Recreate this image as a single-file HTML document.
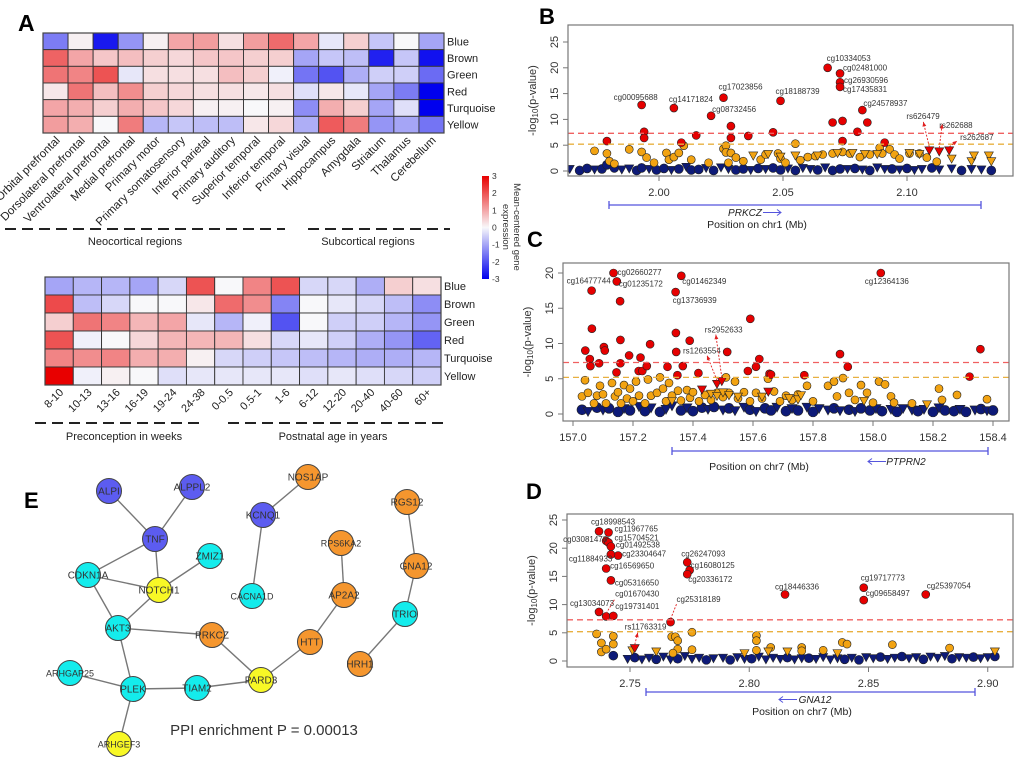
<!DOCTYPE html>
<html><head><meta charset="utf-8">
<style>
html,body{margin:0;padding:0;background:#fff;}
svg{display:block;font-family:"Liberation Sans",sans-serif;}
</style></head>
<body>
<svg id="fig" width="1020" height="766" viewBox="0 0 1020 766" xmlns="http://www.w3.org/2000/svg">
<rect x="0" y="0" width="1020" height="766" fill="#fff"/>
<text x="18" y="31" font-size="23" font-weight="bold">A</text>
<text x="539" y="24" font-size="22" font-weight="bold">B</text>
<text x="527" y="247" font-size="22" font-weight="bold">C</text>
<text x="526" y="499" font-size="22" font-weight="bold">D</text>
<text x="24" y="508" font-size="22" font-weight="bold">E</text>
<g id="gA"></g>
<g id="gE"></g>
<g id="gB"></g>
<g id="gC"></g>
<g id="gD"></g>
</svg>
<script>
const NS="http://www.w3.org/2000/svg";
function mk(tag,attrs,parent){const e=document.createElementNS(NS,tag);for(const k in attrs)e.setAttribute(k,attrs[k]);parent.appendChild(e);return e;}
function txt(s,attrs,parent){const e=mk('text',attrs,parent);e.textContent=s;return e;}

/* ---------- Heatmap data ---------- */
const modules=["Blue","Brown","Green","Red","Turquoise","Yellow"];
const regions=["Orbital prefrontal","Dorsolateral prefrontal","Ventrolateral prefrontal","Medial prefrontal","Primary motor","Primary somatosensory","Inferior parietal","Primary auditory","Superior temporal","Inferior temporal","Primary visual","Hippocampus","Amygdala","Striatum","Thalamus","Cerebellum"];
const regionBlue=[-1.5,0.1,-2.7,-1.2,0.1,1.0,1.1,0.3,1.1,1.7,1.0,-0.2,0.5,-0.6,0.0,-1.0];
const regionBrown=[1.8,1.0,0.6,0.7,0.5,0.4,0.6,0.6,0.5,0.5,-1.0,-0.6,-0.7,-2.6,-0.6,-2.8];
const regionGreen=[1.6,1.4,2.0,-0.2,0.3,0.3,0.3,0.7,0.5,-0.1,-1.6,-2.0,-0.9,-0.5,-0.5,-1.7];
const regionRed=[0.2,1.6,0.7,1.3,0.5,0.4,0.3,0.3,0.2,0.3,-0.3,0.2,-0.2,-1.0,-1.5,-3.0];
const regionTurq=[1.0,0.9,0.5,0.9,0.6,0.4,0.1,0.1,0.0,0.1,-1.3,0.9,0.5,-1.0,-0.3,-3.0];
const regionYellow=[1.1,0.9,0.0,1.5,-0.8,-0.6,-0.7,-0.7,0.2,0.4,-0.9,1.9,1.5,-1.2,-1.0,-1.6];
const ages=["8-10","10-13","13-16","16-19","19-24","24-38","0-0.5","0.5-1","1-6","6-12","12-20","20-40","40-60","60+"];
const ageBlue=[-1.0,-0.8,-0.8,-1.0,-0.4,2.0,0.0,1.4,2.0,-0.4,-0.4,-0.9,0.5,0.3];
const ageBrown=[2.1,-0.7,-0.4,0.0,0.0,0.2,1.7,1.3,-1.4,0.0,-0.2,-0.4,-0.7,-1.3];
const ageGreen=[0.5,1.6,1.4,0.8,1.0,-0.2,-0.8,-0.1,-2.0,0.0,-0.5,-0.5,-0.8,-1.2];
const ageRed=[2.0,-0.1,0.0,0.4,0.8,0.8,0.8,0.3,-0.4,-0.2,-0.5,-0.9,-1.2,-1.8];
const ageTurq=[1.4,1.3,1.4,0.9,0.9,0.1,-0.4,-0.5,-0.6,-0.7,-0.8,-0.9,-0.9,-0.8];
const ageYellow=[3.0,-0.1,0.1,0.0,-0.3,-0.2,-0.2,-0.2,-0.2,-0.3,-0.2,-0.3,-0.4,-0.5];
const colorbarTicks=[3,2,1,0,-1,-2,-3];

function heatColor(v){
  const t=Math.max(-1,Math.min(1,v/3));
  const w=[248,248,250];
  let c;
  if(t>=0)c=[w[0]+(232-w[0])*t,w[1]*(1-t),w[2]*(1-t)];
  else {const s=-t;c=[w[0]*(1-s),w[1]*(1-s),w[2]+(238-w[2])*s];}
  return "rgb("+c.map(Math.round).join(",")+")";
}
(function(){
  const g=document.getElementById('gA');
  function drawHeat(rows,cols,x0,y0,x1,y1,labelY,labelFont,rowLabelX,name){
    const cw=(x1-x0)/cols.length, rh=(y1-y0)/rows.length;
    rows.forEach((row,ri)=>{
      row.forEach((v,ci)=>{
        const r=mk('rect',{x:x0+ci*cw,y:y0+ri*rh,width:cw,height:rh,fill:heatColor(v),stroke:"#333","stroke-width":0.9},g);
        
        
      });
      const t=txt(modules[ri],{x:rowLabelX,y:y0+ri*rh+rh/2+4,"font-size":11,fill:"#222"},g);
      
      
    });
    const b=mk('rect',{x:x0,y:y0,width:x1-x0,height:y1-y0,fill:"none",stroke:"#444","stroke-width":1.2},g);
    
    
    cols.forEach((c,ci)=>{
      const cx=x0+ci*cw+cw/2+5;
      const t=txt(c,{x:cx,y:labelY,"font-size":labelFont,fill:"#222","text-anchor":"end",transform:"rotate(-45 "+cx+" "+labelY+")"},g);
      
      
    });
  }
  drawHeat([regionBlue,regionBrown,regionGreen,regionRed,regionTurq,regionYellow],regions,43,33,444,133,141,11.5,447,'region-heatmap');
  drawHeat([ageBlue,ageBrown,ageGreen,ageRed,ageTurq,ageYellow],ages,45,277,441,385,393,11,444,'age-heatmap');
  [[5,285,229],[308,450,229],[35,200,423],[228,447,423]].forEach(d=>{
    const l=mk('line',{x1:d[0],x2:d[1],y1:d[2],y2:d[2],stroke:"#222","stroke-width":2,"stroke-dasharray":"11 6"},g);
    
    
  });
  [["Neocortical regions",135,245],["Subcortical regions",368,245],["Preconception in weeks",124,440],["Postnatal age in years",333,440]].forEach(d=>{
    const t=txt(d[0],{x:d[1],y:d[2],"font-size":11,"text-anchor":"middle",fill:"#222"},g);
    
    
  });
  const defs=mk('defs',{},g);
  const lg=mk('linearGradient',{id:"cbg",x1:0,y1:0,x2:0,y2:1},defs);
  colorbarTicks.forEach((v,i)=>mk('stop',{offset:(i/(colorbarTicks.length-1)),"stop-color":heatColor(v)},lg));
  const cb=mk('rect',{x:482,y:176,width:7,height:103,fill:"url(#cbg)"},g);
  
  
  colorbarTicks.forEach((v,i)=>{
    const y=176+i*103/(colorbarTicks.length-1);
    const t=txt(String(v),{x:492,y:y+3,"font-size":8.5,fill:"#333"},g);
    
    
  });
  const t1=txt("Mean-centered gene",{x:514,y:227,"font-size":9.5,"text-anchor":"middle",fill:"#333",transform:"rotate(90 514 227)"},g);
  
  
  const t2=txt("expression",{x:503,y:227,"font-size":9.5,"text-anchor":"middle",fill:"#333",transform:"rotate(90 503 227)"},g);
  
  
})();

/* ---------- Network ---------- */
const nodeNames=["ALPI","ALPPL2","TNF","ZMIZ1","CDKN1A","NOTCH1","AKT3","PRKCZ","ARHGAP25","PLEK","TIAM2","PARD3","ARHGEF3","HTT","AP2A2","RPS6KA2","NOS1AP","KCNQ1","CACNA1D","RGS12","GNA12","TRIO","HRH1"];
const nodeGroup=["b","b","b","c","c","y","c","o","c","c","c","y","y","o","o","o","o","b","c","o","o","c","o"];
const nodeXY=[[109,491],[192,487],[155,539],[210,556],[88,575],[159,590],[118,628],[212,635],[70,673],[133,689],[197,688],[261,680],[119,744],[310,642],[344,595],[341,543],[308,477],[263,515],[252,596],[407,502],[416,566],[405,614],[360,664]];
const edges=[["ALPI","TNF"],["ALPPL2","TNF"],["TNF","CDKN1A"],["TNF","NOTCH1"],["ZMIZ1","NOTCH1"],["CDKN1A","NOTCH1"],["CDKN1A","AKT3"],["NOTCH1","AKT3"],["AKT3","PRKCZ"],["AKT3","PLEK"],["ARHGAP25","PLEK"],["PLEK","TIAM2"],["PLEK","ARHGEF3"],["TIAM2","PARD3"],["PRKCZ","PARD3"],["PARD3","HTT"],["HTT","AP2A2"],["AP2A2","RPS6KA2"],["NOS1AP","KCNQ1"],["KCNQ1","CACNA1D"],["RGS12","GNA12"],["GNA12","TRIO"],["TRIO","HRH1"]];
(function(){
  const g=document.getElementById('gE');
  const fills={b:"#5c5cf0",c:"#14ecec",y:"#f8f826",o:"#f5962e"};
  edges.forEach(e=>{
    const a=nodeXY[nodeNames.indexOf(e[0])],b=nodeXY[nodeNames.indexOf(e[1])];
    const l=mk('line',{x1:a[0],y1:a[1],x2:b[0],y2:b[1],stroke:"#777","stroke-width":1.4},g);
    
    
  });
  nodeNames.forEach((n,i)=>{
    const p=nodeXY[i];
    const c=mk('circle',{cx:p[0],cy:p[1],r:12.5,fill:fills[nodeGroup[i]],stroke:"#444","stroke-width":1},g);
    
    
    const t=txt(n,{x:p[0],y:p[1]+3.5,"font-size":n.length>6?9:10,"text-anchor":"middle",fill:"#333"},g);
    
    
  });
  const t=txt("PPI enrichment P = 0.00013",{x:264,y:735,"font-size":15,"text-anchor":"middle",fill:"#333"},g);
  
  
})();

/* ---------- Manhattan B data ---------- */
const bRedX=[1.993,2.006,2.021,2.026,2.049,2.068,2.073,2.073,2.073,2.082,1.979,1.994,1.994,2.009,2.015,2.029,2.029,2.036,2.046,2.070,2.074,2.074,2.080,2.084,2.091];
const bRedY=[12.8,12.2,10.7,14.2,13.6,20.0,18.9,17.2,16.3,11.8,5.8,7.6,6.4,5.5,6.9,8.7,6.4,6.8,7.5,9.4,9.7,5.8,7.6,9.4,5.5];
const bRedLabels=["cg00095688","cg14171824","cg08732456","cg17023856","cg18188739","cg10334053","cg02481000","cg26930596","cg17435831","cg24578937"];
const bLabelOff=[[-28,-5],[-5,-6],[1,-4],[-5,-8],[-5,-7],[-1,-7],[3,-3],[4,1],[3,5],[1,-4]];
const bTriX=[2.109,2.113,2.117];
const bTriY=[3.9,3.7,3.9];
const bTriLabels=["rs626479","rs262688","rs262687"];
const bTriOff=[[-23,-32],[0,-24],[11,-11]];
const bArrowOff=[[17,3],[3,-4],[-3,1]];
const bOrX=[1.974,1.979,1.980,1.982,1.988,1.993,1.995,1.998,2.003,2.004,2.006,2.008,2.010,2.013,2.020,2.026,2.027,2.027,2.029,2.031,2.028,2.034,2.041,2.043,2.048,2.049,2.051,2.055,2.057,2.060,2.063,2.066,2.070,2.074,2.077,2.081,2.085,2.089,2.090,2.093,2.095,2.097,2.101,2.105,2.108,2.112];
const bOrY=[3.9,3.4,1.9,1.4,4.2,3.7,2.6,1.6,3.5,2.2,2.7,3.5,4.9,2.2,1.6,4.3,4.9,3.6,3.5,2.6,1.6,1.9,2.2,3.2,3.4,2.4,1.6,5.3,2.1,2.7,2.9,3.2,3.4,3.7,3.4,2.7,3.2,4.5,3.4,4.2,3.2,2.4,3.4,3.4,2.6,1.8];
const bOrTriX=[2.038,2.044,2.049,2.055,2.064,2.072,2.078,2.083,2.088,2.101,2.105,2.118,2.126,2.127,2.133,2.134];
const bOrTriY=[2.9,3.2,2.7,2.9,2.9,3.4,3.4,3.2,3.2,3.4,3.2,2.3,1.8,2.9,2.9,1.8];
const bNavyX=[1.964,1.968,1.971,1.974,1.977,1.979,1.982,1.985,1.988,1.991,1.993,1.996,1.999,2.002,2.005,2.008,2.011,2.013,2.016,2.019,2.022,2.025,2.028,2.031,2.034,2.037,2.040,2.043,2.046,2.049,2.052,2.055,2.058,2.061,2.064,2.067,2.070,2.073,2.076,2.079,2.082,2.085,2.088,2.091,2.094,2.097,2.100,2.103,2.106,2.110,2.113,2.118,2.122,2.126,2.130,2.134];
const bNavyY=[0.3,0.1,0.5,0.2,0.4,1.2,0.6,0.2,0.4,0.1,0.6,0.3,0.2,0.5,0.1,0.4,0.7,0.2,0.3,0.5,0.1,0.6,0.3,0.2,0.4,0.1,0.5,0.3,0.6,0.2,0.4,0.1,0.5,0.3,0.2,0.6,0.1,0.4,0.3,0.5,0.2,0.1,0.6,0.3,0.4,0.2,0.5,0.1,0.3,0.6,0.2,0.4,0.1,0.3,0.2,0.1];
const bNavyShape="tcctcccttcctcctctcctcttcctctcctcttctcctctcttctcttcttctt";
const bXTicks=[2.00,2.05,2.10];
const bYTicks=[0,5,10,15,20,25];

/* ---------- Manhattan C data ---------- */
const cRedX=[157.135,157.062,157.146,157.361,157.342,158.026,157.041,157.063,157.056,157.058,157.087,157.103,157.106,157.157,157.158,157.158,157.145,157.187,157.219,157.225,157.231,157.246,157.257,157.315,157.343,157.344,157.348,157.366,157.389,157.418,157.514,157.583,157.591,157.610,157.621,157.655,157.660,157.771,157.890,157.916,158.322,158.358];
const cRedY=[20.0,17.5,18.8,19.6,17.3,20.0,9.0,12.1,7.8,6.8,7.2,9.5,9.0,16.0,10.5,7.2,5.9,8.3,6.1,8.0,6.1,6.8,9.9,6.7,11.5,8.8,5.5,6.8,10.4,5.8,8.8,6.1,13.5,6.7,7.8,5.7,5.6,5.5,8.5,6.7,5.3,9.2];
const cRedLabels=["cg02660277","cg16477744","cg01235172","cg01462349","cg13736939","cg12364136"];
const cLabelOff=[[4,2],[-25,-7],[2,5],[1,8],[-3,11],[-16,11]];
const cTriX=[157.480,157.496,157.430,157.651];
const cTriY=[4.2,4.6,3.4,3.1];
const cTriLabels=["rs1263554","rs2952633"];
const cTriOff=[[-34,-31],[-17,-49]];
const cArrowOff=[[24,2],[11,2]];
const cOrX=[157.03,157.04,157.05,157.07,157.08,157.09,157.10,157.11,157.13,157.14,157.15,157.16,157.17,157.18,157.19,157.20,157.21,157.22,157.24,157.25,157.26,157.28,157.29,157.30,157.31,157.32,157.33,157.35,157.36,157.38,157.39,157.40,157.42,157.44,157.46,157.48,157.50,157.51,157.52,157.54,157.55,157.57,157.59,157.61,157.63,157.65,157.67,157.69,157.71,157.73,157.75,157.78,157.80,157.85,157.87,157.88,157.90,157.92,157.94,157.96,157.98,158.00,158.02,158.04,158.06,158.07,158.13,158.22,158.23,158.28,158.38];
const cOrY=[2.5,4.8,3.0,1.5,2.6,4.0,2.8,1.5,4.4,2.5,3.1,1.5,4.1,2.2,3.6,1.8,4.6,2.6,1.5,4.9,2.6,3.0,5.2,3.6,1.8,4.4,2.6,3.3,1.9,3.4,2.3,3.1,1.8,2.7,2.0,3.0,2.4,5.2,3.0,4.6,2.2,3.1,1.8,3.0,2.2,5.0,3.2,1.8,2.6,2.0,2.8,4.0,1.8,4.0,4.6,2.5,5.1,3.0,2.0,4.1,3.0,1.6,4.6,4.2,2.5,1.6,1.5,3.6,2.0,2.7,2.1];
const cOrTriX=[157.33,157.46,157.48,157.50,157.52,157.55,157.63,157.72,157.75,157.76,157.97,158.18];
const cOrTriY=[1.8,2.8,2.5,3.0,2.6,2.4,2.4,2.2,2.0,2.6,1.8,1.3];
const cNavyX=[157.03,157.05,157.08,157.10,157.12,157.15,157.17,157.19,157.22,157.24,157.26,157.29,157.31,157.33,157.36,157.38,157.40,157.43,157.45,157.47,157.50,157.52,157.54,157.57,157.59,157.61,157.64,157.66,157.68,157.71,157.73,157.75,157.78,157.80,157.82,157.85,157.87,157.89,157.92,157.94,157.96,157.99,158.01,158.03,158.06,158.08,158.10,158.13,158.15,158.17,158.20,158.22,158.24,158.27,158.29,158.31,158.34,158.36,158.38,158.40];
const cNavyY=[0.6,0.3,0.9,0.5,0.8,0.3,0.7,0.5,1.0,0.4,0.8,0.3,0.6,1.1,0.5,0.8,0.4,0.9,0.6,1.0,0.5,0.8,0.4,0.9,0.6,0.3,0.8,0.5,0.9,0.4,0.7,0.5,0.9,0.3,0.7,0.5,0.8,0.4,0.6,0.3,0.8,0.5,0.7,0.4,0.6,0.3,0.7,0.5,0.4,0.6,0.3,0.8,0.5,0.4,0.6,0.3,0.5,0.7,0.4,0.5];
const cNavyShape="ctctcctctctcttctcctctcttctcctctctcttctctcctctcttctctcctctct";
const cXTicks=[157.0,157.2,157.4,157.6,157.8,158.0,158.2,158.4];
const cYTicks=[0,5,10,15,20];

/* ---------- Manhattan D data ---------- */
const dRedX=[2.737,2.741,2.740,2.741,2.742,2.745,2.742,2.740,2.742,2.737,2.740,2.743,2.774,2.775,2.774,2.767,2.815,2.848,2.848,2.874];
const dRedY=[23.0,22.8,21.3,21.0,20.3,18.7,18.9,16.4,14.3,8.7,7.9,8.0,17.5,16.1,15.4,6.9,11.8,13.0,10.8,11.8];
const dRedLabels=["cg18998543","cg11967765","cg03081478","cg15704521","cg01492538","cg23304647","cg11884933","cg16569650","cg05316650","cg13034073","cg01670430","cg19731401","cg26247093","cg16080125","cg20336172","cg25318189","cg18446336","cg19717773","cg09658497","cg25397054"];
const dLabelOff=[[-8,-7],[6,-1],[-43,1],[6,-2],[5,1],[4,1],[-42,7],[4,0],[4,5],[-29,-6],[9,-20],[2,-7],[-6,-6],[1,-2],[1,8],[6,-20],[-10,-5],[-3,-7],[2,-4],[1,-6]];
const dArrowIdx=[10,15];
const dTriX=[2.752];
const dTriY=[2.2];
const dTriLabels=["rs11763319"];
const dTriOff=[[-10,-19]];
const dArrowOff=[[13,3]];
const dOrX=[2.736,2.738,2.738,2.740,2.743,2.743,2.7675,2.769,2.770,2.770,2.768,2.776,2.776,2.803,2.803,2.803,2.809,2.822,2.822,2.831,2.839,2.841,2.860,2.884];
const dOrY=[4.8,3.2,1.6,2.1,3.0,4.4,4.3,4.3,3.6,2.1,1.4,5.1,2.0,4.5,3.6,1.9,2.4,2.4,1.8,1.9,3.3,3.0,2.9,2.3];
const dOrTriX=[2.751,2.761,2.798,2.808,2.816,2.837,2.903];
const dOrTriY=[1.8,1.6,1.3,1.6,1.6,1.3,1.6];
const dNavyX=[2.743,2.749,2.752,2.755,2.758,2.761,2.764,2.767,2.770,2.773,2.776,2.779,2.782,2.785,2.789,2.792,2.795,2.798,2.801,2.804,2.807,2.810,2.813,2.816,2.819,2.822,2.825,2.828,2.831,2.834,2.837,2.840,2.843,2.846,2.849,2.852,2.855,2.858,2.861,2.864,2.867,2.870,2.873,2.876,2.879,2.882,2.885,2.888,2.891,2.894,2.897,2.900,2.903];
const dNavyY=[0.95,0.3,0.6,0.2,0.5,0.3,0.7,0.2,0.4,0.8,0.3,0.5,0.2,0.4,0.5,0.2,0.6,0.3,0.4,0.7,0.2,0.5,0.3,0.6,0.2,0.4,0.5,0.3,0.6,0.2,0.4,0.3,0.5,0.2,0.6,0.4,0.7,0.3,0.5,0.8,0.4,0.6,0.3,0.7,0.5,0.8,0.4,0.6,0.5,0.7,0.4,0.6,0.8];
const dNavyShape="ctcttcttctttcttcttcttttcttcttttctcttcttcttctttcttcttct";
const dXTicks=[2.75,2.80,2.85,2.90];
const dYTicks=[0,5,10,15,20,25];

function manhattan(cfg){
  const g=document.getElementById(cfg.id);
  const xs=v=>cfg.px0+(v-cfg.v0)*cfg.ppx;
  const ys=v=>cfg.py0-v*cfg.ppy;
  const clip=mk('clipPath',{id:cfg.id+"clip"},mk('defs',{},g));
  mk('rect',{x:cfg.box[0],y:cfg.box[1],width:cfg.box[2]-cfg.box[0],height:cfg.box[3]-cfg.box[1]},clip);
  const pts=mk('g',{"clip-path":"url(#"+cfg.id+"clip)"},g);
  function circ(x,y,fill,r,name){
    const c=mk('circle',{cx:xs(x),cy:ys(y),r:r,fill:fill,stroke:"#222","stroke-width":0.6},pts);
    
    
  }
  function tri(x,y,fill,s,name){
    const X=xs(x),Y=ys(y);
    const p=mk('polygon',{points:(X-s)+","+(Y-s*0.9)+" "+(X+s)+","+(Y-s*0.9)+" "+X+","+(Y+s*0.9),fill:fill,stroke:"#222","stroke-width":0.6},pts);
    
    
  }
  [[7.3,"#f06060"],[5.2,"#e8b040"]].forEach(t=>{
    const l=mk('line',{x1:cfg.box[0],x2:cfg.box[2],y1:ys(t[0]),y2:ys(t[0]),stroke:t[1],"stroke-width":1.3,"stroke-dasharray":"6 4"},g);
    
    
  });
  cfg.navyX.forEach((x,i)=>{ if(i>=cfg.navyY.length)return;
    if(cfg.navyShape[i]==='t')tri(x,cfg.navyY[i],"#0d1a78",cfg.nr,'navy-triangle'); else circ(x,cfg.navyY[i],"#0d1a78",cfg.nr,'navy-point'); });
  cfg.orX.forEach((x,i)=>circ(x,cfg.orY[i],"#f2a312",4,'orange-point'));
  cfg.orTriX.forEach((x,i)=>tri(x,cfg.orTriY[i],"#f2a312",4.5,'orange-triangle'));
  cfg.redX.forEach((x,i)=>circ(x,cfg.redY[i],"#e60000",4,'red-point'));
  cfg.triX.forEach((x,i)=>tri(x,cfg.triY[i],"#e60000",4.5,'red-triangle'));
  cfg.redLabels.forEach((s,i)=>{
    const X=xs(cfg.redX[i])+cfg.labelOff[i][0],Y=ys(cfg.redY[i])+cfg.labelOff[i][1];
    const t=txt(s,{x:X,y:Y,"font-size":8,fill:"#333"},g);
    
    
    if(cfg.arrowIdx&&cfg.arrowIdx.indexOf(i)>=0){
      const l=mk('line',{x1:xs(cfg.redX[i]),y1:ys(cfg.redY[i])-3,x2:X,y2:Y+2,stroke:"#e02020","stroke-width":0.9,"stroke-dasharray":"2 1.5"},g);
      
      
    }
  });
  cfg.triLabels.forEach((s,i)=>{
    const X0=xs(cfg.triX[i]),Y0=ys(cfg.triY[i]);
    const X=X0+cfg.triOff[i][0],Y=Y0+cfg.triOff[i][1];
    const t=txt(s,{x:X,y:Y,"font-size":8,fill:"#333"},g);
    
    
    const ex=X+cfg.arrowOff[i][0],ey=Y+cfg.arrowOff[i][1];
    const l=mk('line',{x1:X0,y1:Y0-4,x2:ex,y2:ey,stroke:"#e02020","stroke-width":0.9,"stroke-dasharray":"2 1.5"},g);
    
    
    const a=Math.atan2(ey-Y0+4,ex-X0);
    const h=mk('polygon',{points:ex+","+ey+" "+(ex-5*Math.cos(a-0.4))+","+(ey-5*Math.sin(a-0.4))+" "+(ex-5*Math.cos(a+0.4))+","+(ey-5*Math.sin(a+0.4)),fill:"#e02020"},g);
    
    
  });
  const b=mk('rect',{x:cfg.box[0],y:cfg.box[1],width:cfg.box[2]-cfg.box[0],height:cfg.box[3]-cfg.box[1],fill:"none",stroke:"#777","stroke-width":1.2},g);
  
  
  cfg.yTicks.forEach(v=>{
    const y=ys(v);
    const l=mk('line',{x1:cfg.box[0]-5,x2:cfg.box[0],y1:y,y2:y,stroke:"#777"},g);
    
    
    const lx=cfg.box[0]-10;
    const t=txt(String(v),{x:lx,y:y,"font-size":11,fill:"#333","text-anchor":"middle",transform:"rotate(-90 "+lx+" "+y+")"},g);
    
    
  });
  cfg.xTicks.forEach(v=>{
    const x=xs(v);
    const l=mk('line',{x1:x,x2:x,y1:cfg.box[3],y2:cfg.box[3]+5,stroke:"#777"},g);
    
    
    const t=txt(v.toFixed(cfg.dec),{x:x,y:cfg.box[3]+20,"font-size":11,fill:"#333","text-anchor":"middle"},g);
    
    
  });
  const yt=txt("-log",{x:cfg.yTitleX,y:(cfg.box[1]+cfg.box[3])/2,"font-size":11,fill:"#333","text-anchor":"middle",transform:"rotate(-90 "+cfg.yTitleX+" "+((cfg.box[1]+cfg.box[3])/2)+")"},g);
  
  
  const s1=document.createElementNS(NS,'tspan');s1.setAttribute('font-size','8');s1.setAttribute('dy','2');s1.textContent="10";yt.appendChild(s1);
  const s2=document.createElementNS(NS,'tspan');s2.setAttribute('dy','-2');s2.textContent="(p-value)";yt.appendChild(s2);
  const gl=cfg.gene;
  const ln=mk('line',{x1:gl.x1,x2:gl.x2,y1:gl.y,y2:gl.y,stroke:"#5555dd","stroke-width":1.3},g);
  
  
  [gl.x1,gl.x2].forEach(x=>{const e=mk('line',{x1:x,x2:x,y1:gl.y-4,y2:gl.y+4,stroke:"#5555dd","stroke-width":1.3},g);
    
    });
  const gt=txt(gl.name,{x:gl.nx,y:gl.ny,"font-size":10,"font-style":"italic",fill:"#222","text-anchor":"middle"},g);
  
  
  const ax=gl.dir>0?gl.nx+gl.nw/2+3:gl.nx-gl.nw/2-21;
  const ar=mk('line',{x1:ax,x2:ax+18,y1:gl.ny-3.5,y2:gl.ny-3.5,stroke:"#5555dd","stroke-width":1},g);
  
  
  const hx=gl.dir>0?ax+18:ax, hd=gl.dir>0?-4:4;
  const ah=mk('polyline',{points:(hx+hd)+","+(gl.ny-6.5)+" "+hx+","+(gl.ny-3.5)+" "+(hx+hd)+","+(gl.ny-0.5),fill:"none",stroke:"#5555dd","stroke-width":1},g);
  
  
  const xt=txt(gl.title,{x:gl.tx,y:gl.ty,"font-size":10.5,fill:"#222","text-anchor":"middle"},g);
  
  
}

manhattan({id:"gB",px0:659,v0:2.00,ppx:2480,py0:171,ppy:5.16,box:[568,25,1013,176],dec:2,nr:4.5,
  redX:bRedX,redY:bRedY,redLabels:bRedLabels,labelOff:bLabelOff,triX:bTriX,triY:bTriY,triLabels:bTriLabels,triOff:bTriOff,arrowOff:bArrowOff,
  orX:bOrX,orY:bOrY,orTriX:bOrTriX,orTriY:bOrTriY,navyX:bNavyX,navyY:bNavyY,navyShape:bNavyShape,xTicks:bXTicks,yTicks:bYTicks,yTitleX:536,
  gene:{x1:609,x2:981,y:205,name:"PRKCZ",nx:745,ny:216,nw:30,dir:1,title:"Position on chr1 (Mb)",tx:757,ty:228}});
manhattan({id:"gC",px0:573,v0:157.0,ppx:300,py0:414,ppy:7.05,box:[563,263,1009,421],dec:1,nr:5,
  redX:cRedX,redY:cRedY,redLabels:cRedLabels,labelOff:cLabelOff,triX:cTriX,triY:cTriY,triLabels:cTriLabels,triOff:cTriOff,arrowOff:cArrowOff,
  orX:cOrX,orY:cOrY,orTriX:cOrTriX,orTriY:cOrTriY,navyX:cNavyX,navyY:cNavyY,navyShape:cNavyShape,xTicks:cXTicks,yTicks:cYTicks,yTitleX:531,
  gene:{x1:672,x2:988,y:451,name:"PTPRN2",nx:906,ny:465,nw:34,dir:-1,title:"Position on chr7 (Mb)",tx:759,ty:470}});
manhattan({id:"gD",px0:630,v0:2.75,ppx:2385,py0:661,ppy:5.64,box:[567,514,1013,667],dec:2,nr:4.5,
  redX:dRedX,redY:dRedY,redLabels:dRedLabels,labelOff:dLabelOff,arrowIdx:dArrowIdx,triX:dTriX,triY:dTriY,triLabels:dTriLabels,triOff:dTriOff,arrowOff:dArrowOff,
  orX:dOrX,orY:dOrY,orTriX:dOrTriX,orTriY:dOrTriY,navyX:dNavyX,navyY:dNavyY,navyShape:dNavyShape,xTicks:dXTicks,yTicks:dYTicks,yTitleX:535,
  gene:{x1:646,x2:975,y:692,name:"GNA12",nx:815,ny:703,nw:30,dir:-1,title:"Position on chr7 (Mb)",tx:802,ty:715}});
</script>
</body></html>
